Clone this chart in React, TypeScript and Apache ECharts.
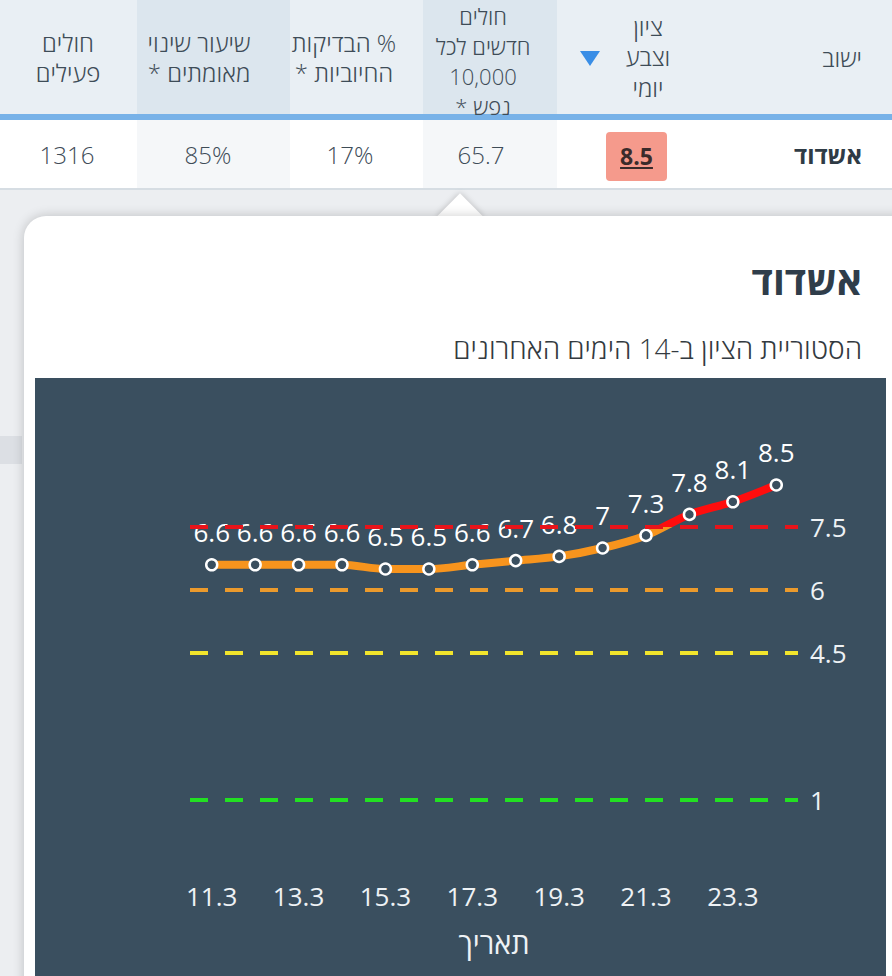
import React, { useEffect, useRef } from "react";
import * as echarts from "echarts";

const FONT = "'Open Sans', 'DejaVu Sans', sans-serif";

// ---- data ----
const dates = ["11.3", "12.3", "13.3", "14.3", "15.3", "16.3", "17.3", "18.3", "19.3", "20.3", "21.3", "22.3", "23.3", "24.3"];
const scores = [6.6, 6.6, 6.6, 6.6, 6.5, 6.5, 6.6, 6.7, 6.8, 7, 7.3, 7.8, 8.1, 8.5];
const thresholds = [1, 4.5, 6, 7.5];
const thresholdColors = ["#22e022", "#f2e52c", "#eb9a2c", "#e8141a"];

const cityName = "אשדוד";
const chartSubtitle = "הסטוריית הציון ב-14 הימים האחרונים";
const xAxisName = "תאריך";

const headerActive = ["חולים", "פעילים"];
const headerChange = ["שיעור שינוי", "מאומתים *"];
const headerPositive = ["% הבדיקות", "החיוביות *"];
const headerNew = ["חולים", "חדשים לכל", "10,000", "נפש *"];
const headerScore = ["ציון", "וצבע", "יומי"];
const headerCity = ["ישוב"];

const rowActive = "1316";
const rowChange = "85%";
const rowPositive = "17%";
const rowNew = "65.7";
const rowScore = "8.5";

const textColor = "#3e4c57";

function HeaderCell({ lines, cx, firstY, lh = 30.5, fs = 24 }: { lines: string[]; cx: number; firstY: number; lh?: number; fs?: number }) {
  return (
    <div
      style={{
        position: "absolute",
        left: cx - 90,
        width: 180,
        top: firstY - lh / 2,
        lineHeight: lh + "px",
        fontSize: fs,
        fontWeight: 300,
        textAlign: "center",
        direction: "rtl",
        color: textColor,
        fontFamily: FONT,
        whiteSpace: "nowrap",
      }}
    >
      {lines.map((l, i) => (
        <div key={i}>{l}</div>
      ))}
    </div>
  );
}

function RowCell({ text, cx }: { text: string; cx: number }) {
  return (
    <div
      style={{
        position: "absolute",
        left: cx - 60,
        width: 120,
        top: 139,
        lineHeight: "32px",
        fontSize: 24,
        fontWeight: 300,
        textAlign: "center",
        color: textColor,
        fontFamily: FONT,
      }}
    >
      {text}
    </div>
  );
}

function Chart() {
  const ref = useRef<HTMLDivElement>(null);
  useEffect(() => {
    if (!ref.current) return;
    const chart = echarts.init(ref.current, undefined, { renderer: "svg" });
    const bg = "#3a4f5f";
    chart.setOption({
      animation: false,
      backgroundColor: bg,
      textStyle: { fontFamily: FONT },
      grid: { left: 155, width: 608, top: 44, height: 420 },
      xAxis: {
        type: "category",
        data: dates,
        boundaryGap: true,
        axisLine: { show: false },
        axisTick: { show: false },
        splitLine: { show: false },
        axisLabel: { interval: 1, color: "#eef2f5", fontSize: 26, margin: 41, fontFamily: FONT },
        name: xAxisName,
        nameLocation: "middle",
        nameGap: 86,
        nameTextStyle: { color: "#eef2f5", fontSize: 29, fontFamily: FONT },
      },
      yAxis: { type: "value", min: 0, max: 10, axisLabel: { show: false }, axisLine: { show: false }, axisTick: { show: false }, splitLine: { show: false } },
      visualMap: {
        show: false,
        type: "piecewise",
        seriesIndex: 0,
        dimension: 1,
        pieces: [
          { gte: 0, lte: 7.5, color: "#f7941d" },
          { gt: 7.5, lte: 10, color: "#ff0d0d" },
        ],
      },
      series: [
        {
          type: "line",
          data: scores,
          smooth: 0.3,
          symbol: "none",
          lineStyle: { width: 8 },
          z: 3,
        },
        {
          type: "line",
          data: scores,
          smooth: 0.3,
          lineStyle: { width: 0, opacity: 0 },
          symbol: "circle",
          symbolSize: 11,
          z: 4,
          itemStyle: { color: bg, borderColor: "#ffffff", borderWidth: 2.5 },
          label: {
            show: true,
            position: "top",
            distance: 13,
            color: "#ffffff",
            fontSize: 26,
            fontFamily: FONT,
          },
          markLine: {
            silent: true,
            symbol: "none",
            data: thresholds.map((t, i) => ({
              yAxis: t,
              lineStyle: { color: thresholdColors[i], type: [18, 17], width: 4 },
            })),
            label: {
              position: "end",
              formatter: "{c}",
              color: "#eef2f5",
              fontSize: 26,
              distance: 12,
              fontFamily: FONT,
            },
          },
        },
      ],
    });
    return () => chart.dispose();
  }, []);
  return <div ref={ref} style={{ position: "absolute", left: 35, top: 378, width: 851, height: 598 }} />;
}

export default function App() {
  return (
    <div
      style={{
        position: "absolute",
        left: 0,
        top: 0,
        width: 892,
        height: 976,
        overflow: "hidden",
        background: "#eceef1",
        fontFamily: FONT,
      }}
    >
      {/* header */}
      <div style={{ position: "absolute", left: 0, top: 0, width: 892, height: 115, background: "#e9eff4" }} />
      <div style={{ position: "absolute", left: 137, top: 0, width: 153, height: 115, background: "#dce6ee" }} />
      <div style={{ position: "absolute", left: 423, top: 0, width: 134, height: 115, background: "#dce6ee" }} />
      <div style={{ position: "absolute", left: 0, top: 114, width: 892, height: 6, background: "#78b2e8" }} />
      {/* row */}
      <div style={{ position: "absolute", left: 0, top: 120, width: 892, height: 68, background: "#ffffff" }} />
      <div style={{ position: "absolute", left: 137, top: 120, width: 153, height: 68, background: "#f5f7f9" }} />
      <div style={{ position: "absolute", left: 423, top: 120, width: 134, height: 68, background: "#f5f7f9" }} />
      <div style={{ position: "absolute", left: 0, top: 188, width: 892, height: 2, background: "#d6dde3" }} />

      <HeaderCell lines={headerActive} cx={68} firstY={43} />
      <HeaderCell lines={headerChange} cx={199} firstY={43} />
      <HeaderCell lines={headerPositive} cx={344} firstY={43} />
      <HeaderCell lines={headerNew} cx={483} firstY={15.5} lh={30} fs={22} />
      <HeaderCell lines={headerScore} cx={648} firstY={27} />
      <div
        style={{
          position: "absolute",
          left: 862 - 120,
          width: 120,
          top: 43,
          lineHeight: "30px",
          fontSize: 24,
          fontWeight: 300,
          textAlign: "right",
          direction: "rtl",
          color: textColor,
          fontFamily: FONT,
        }}
      >
        {headerCity[0]}
      </div>
      {/* sort triangle */}
      <div
        style={{
          position: "absolute",
          left: 580,
          top: 51,
          width: 0,
          height: 0,
          borderLeft: "10px solid transparent",
          borderRight: "10px solid transparent",
          borderTop: "15px solid #3a8ee6",
        }}
      />

      <RowCell text={rowActive} cx={67} />
      <RowCell text={rowChange} cx={208} />
      <RowCell text={rowPositive} cx={350} />
      <RowCell text={rowNew} cx={481} />
      <div
        style={{
          position: "absolute",
          left: 606,
          top: 132,
          width: 61,
          height: 49,
          borderRadius: 4,
          background: "#f59a8c",
          textAlign: "center",
          lineHeight: "49px",
          fontSize: 23,
          fontWeight: 700,
          color: "#3a2b2b",
          textDecoration: "underline",
          fontFamily: FONT,
        }}
      >
        {rowScore}
      </div>
      <div
        style={{
          position: "absolute",
          left: 862 - 150,
          width: 150,
          top: 139,
          lineHeight: "32px",
          fontSize: 24,
          fontWeight: 700,
          textAlign: "right",
          direction: "rtl",
          color: "#2f3b45",
          fontFamily: FONT,
        }}
      >
        {cityName}
      </div>

      {/* background shape at left */}
      <div style={{ position: "absolute", left: 0, top: 436, width: 22, height: 28, background: "#dcdfe4" }} />

      {/* arrow */}
      <div
        style={{
          position: "absolute",
          left: 460 - 16,
          top: 216 - 16,
          width: 32,
          height: 32,
          background: "#ffffff",
          transform: "rotate(45deg)",
          boxShadow: "0 0 6px rgba(0,0,0,0.22)",
        }}
      />
      {/* card */}
      <div
        style={{
          position: "absolute",
          left: 24,
          top: 216,
          width: 900,
          height: 800,
          background: "#ffffff",
          borderTopLeftRadius: 22,
          boxShadow: "0 0 12px rgba(0,0,0,0.2)",
        }}
      />
      <div style={{ position: "absolute", left: 440, top: 216, width: 40, height: 10, background: "#ffffff" }} />
      <div
        style={{
          position: "absolute",
          left: 500,
          width: 362,
          top: 256,
          lineHeight: "48px",
          fontSize: 39,
          fontWeight: 700,
          textAlign: "right",
          direction: "rtl",
          color: "#2f3d4a",
          fontFamily: FONT,
        }}
      >
        {cityName}
      </div>
      <div
        style={{
          position: "absolute",
          left: 300,
          width: 562,
          top: 330,
          lineHeight: "36px",
          fontSize: 28,
          fontWeight: 300,
          textAlign: "right",
          direction: "rtl",
          color: "#333a40",
          fontFamily: FONT,
        }}
      >
        {chartSubtitle}
      </div>
      <Chart />
    </div>
  );
}
